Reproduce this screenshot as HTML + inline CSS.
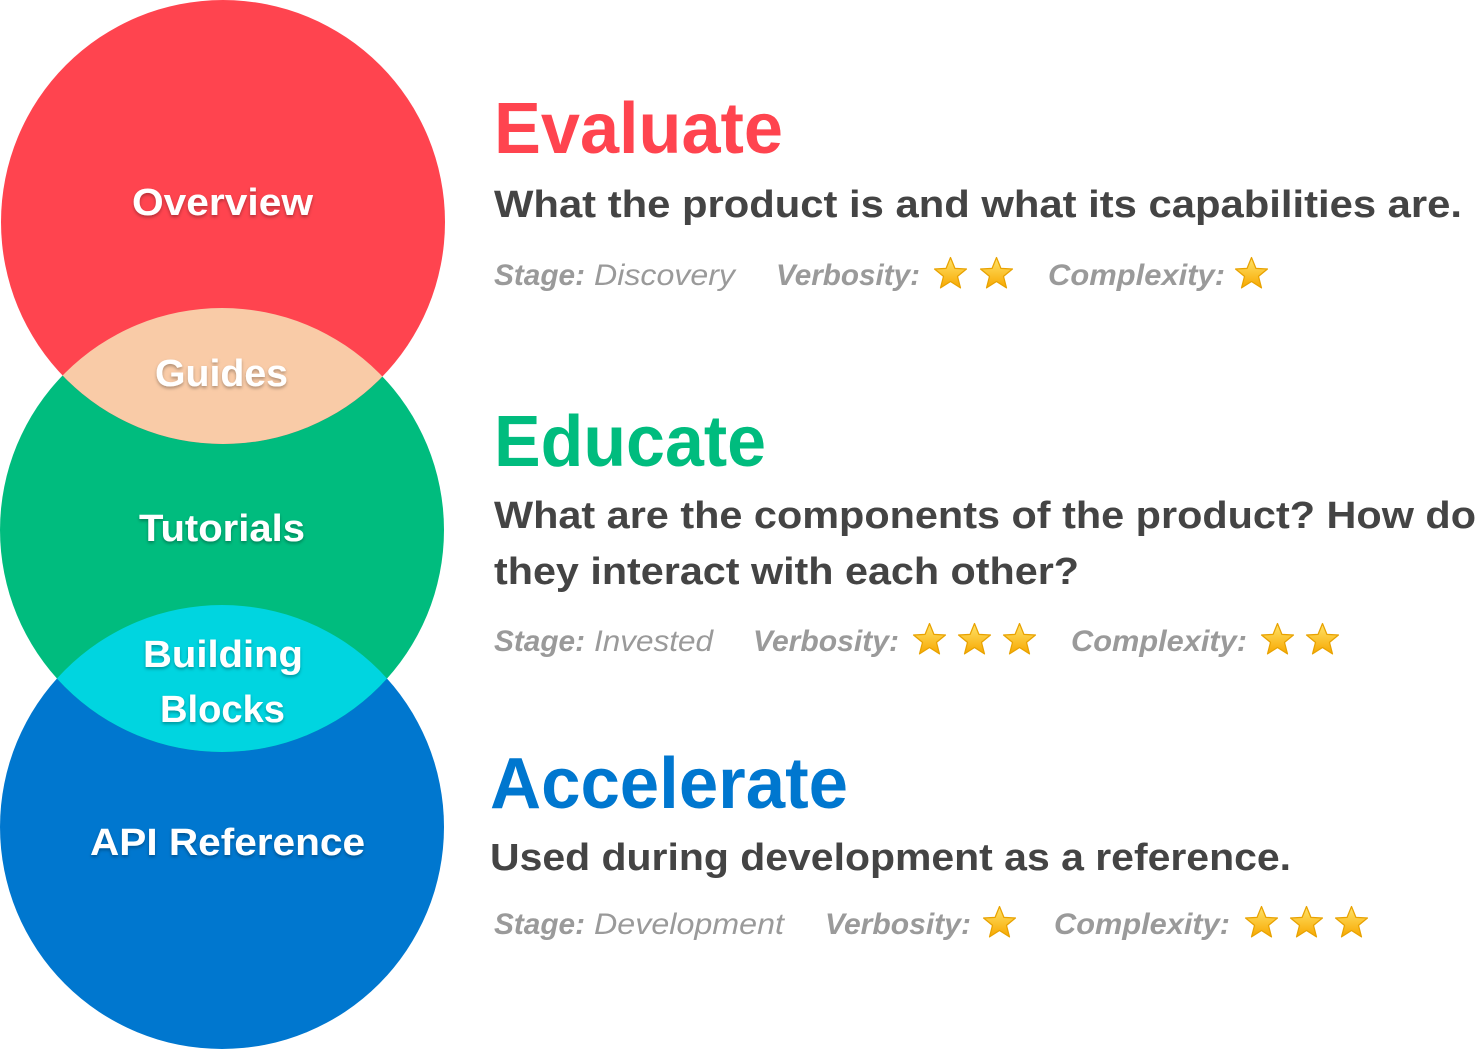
<!DOCTYPE html>
<html><head><meta charset="utf-8"><style>
html,body{margin:0;padding:0;background:#fff;width:1476px;height:1049px;overflow:hidden}
svg text{font-family:"Liberation Sans",sans-serif}
</style></head><body>
<svg width="1476" height="1049" viewBox="0 0 1476 1049" xmlns="http://www.w3.org/2000/svg">
<defs>
<clipPath id="cr"><circle cx="223" cy="222" r="222"/></clipPath>
<clipPath id="cg"><circle cx="222" cy="530" r="222"/></clipPath>
<linearGradient id="sg" x1="0" y1="0" x2="0" y2="1"><stop offset="0" stop-color="#FFE36A"/><stop offset="1" stop-color="#F7A800"/></linearGradient>
<symbol id="star" viewBox="0 0 34 34"><path d="M17 1.5 L21.3 12 L32.5 12.6 L23.8 19.8 L26.7 31 L17 24.8 L7.3 31 L10.2 19.8 L1.5 12.6 L12.7 12 Z" fill="url(#sg)" stroke="#E8A200" stroke-width="1.2" stroke-linejoin="round"/></symbol>
<filter id="sh" x="-10%" y="-30%" width="120%" height="160%"><feDropShadow dx="0" dy="2" stdDeviation="1.5" flood-color="#000" flood-opacity="0.3"/></filter>
</defs>
<circle cx="222" cy="827" r="222" fill="#0077CF"/>
<circle cx="222" cy="530" r="222" fill="#00BC7E"/>
<circle cx="223" cy="222" r="222" fill="#FF444F"/>
<circle cx="222" cy="530" r="222" fill="#F9CBA7" clip-path="url(#cr)"/>
<circle cx="222" cy="827" r="222" fill="#00D5E0" clip-path="url(#cg)"/>
<g fill="#fff" font-weight="bold" font-size="38" filter="url(#sh)">
<text x="132" y="215" textLength="181" lengthAdjust="spacingAndGlyphs">Overview</text>
<text x="155" y="386" textLength="133" lengthAdjust="spacingAndGlyphs">Guides</text>
<text x="139" y="541" textLength="166" lengthAdjust="spacingAndGlyphs">Tutorials</text>
<text x="143" y="667" textLength="160" lengthAdjust="spacingAndGlyphs">Building</text>
<text x="160" y="722" textLength="125" lengthAdjust="spacingAndGlyphs">Blocks</text>
<text x="90" y="855" textLength="275" lengthAdjust="spacingAndGlyphs">API Reference</text>
</g>
<g font-weight="bold">
<text x="494" y="153" font-size="72" fill="#FF444F" textLength="289" lengthAdjust="spacingAndGlyphs">Evaluate</text>
<text x="494" y="217" font-size="38" fill="#444" textLength="968" lengthAdjust="spacingAndGlyphs">What the product is and what its capabilities are.</text>
<text x="494" y="466" font-size="72" fill="#00BC7E" textLength="272" lengthAdjust="spacingAndGlyphs">Educate</text>
<text x="494" y="528" font-size="38" fill="#444" textLength="982" lengthAdjust="spacingAndGlyphs">What are the components of the product? How do</text>
<text x="494" y="584" font-size="38" fill="#444" textLength="585" lengthAdjust="spacingAndGlyphs">they interact with each other?</text>
<text x="490" y="808" font-size="72" fill="#0077CF" textLength="358" lengthAdjust="spacingAndGlyphs">Accelerate</text>
<text x="490" y="870" font-size="38" fill="#444" textLength="801" lengthAdjust="spacingAndGlyphs">Used during development as a reference.</text>
</g>
<g fill="#9a9a9a" font-size="30" font-style="italic">
<text x="494" y="285" font-weight="bold" textLength="91" lengthAdjust="spacingAndGlyphs">Stage:</text>
<text x="594" y="285" textLength="141" lengthAdjust="spacingAndGlyphs">Discovery</text>
<text x="776" y="285" font-weight="bold" textLength="144" lengthAdjust="spacingAndGlyphs">Verbosity:</text>
<text x="1048" y="285" font-weight="bold" textLength="177" lengthAdjust="spacingAndGlyphs">Complexity:</text>
<text x="494" y="651" font-weight="bold" textLength="91" lengthAdjust="spacingAndGlyphs">Stage:</text>
<text x="594" y="651" textLength="119" lengthAdjust="spacingAndGlyphs">Invested</text>
<text x="753" y="651" font-weight="bold" textLength="146" lengthAdjust="spacingAndGlyphs">Verbosity:</text>
<text x="1071" y="651" font-weight="bold" textLength="176" lengthAdjust="spacingAndGlyphs">Complexity:</text>
<text x="494" y="934" font-weight="bold" textLength="91" lengthAdjust="spacingAndGlyphs">Stage:</text>
<text x="594" y="934" textLength="190" lengthAdjust="spacingAndGlyphs">Development</text>
<text x="825" y="934" font-weight="bold" textLength="146" lengthAdjust="spacingAndGlyphs">Verbosity:</text>
<text x="1054" y="934" font-weight="bold" textLength="176" lengthAdjust="spacingAndGlyphs">Complexity:</text>
</g>
<use href="#star" x="933" y="256" width="35" height="35"/>
<use href="#star" x="979" y="256" width="35" height="35"/>
<use href="#star" x="1234" y="256" width="35" height="35"/>
<use href="#star" x="912" y="622" width="35" height="35"/>
<use href="#star" x="957" y="622" width="35" height="35"/>
<use href="#star" x="1002" y="622" width="35" height="35"/>
<use href="#star" x="1260" y="622" width="35" height="35"/>
<use href="#star" x="1305" y="622" width="35" height="35"/>
<use href="#star" x="982" y="905" width="35" height="35"/>
<use href="#star" x="1244" y="905" width="35" height="35"/>
<use href="#star" x="1289" y="905" width="35" height="35"/>
<use href="#star" x="1334" y="905" width="35" height="35"/>
</svg>
</body></html>
